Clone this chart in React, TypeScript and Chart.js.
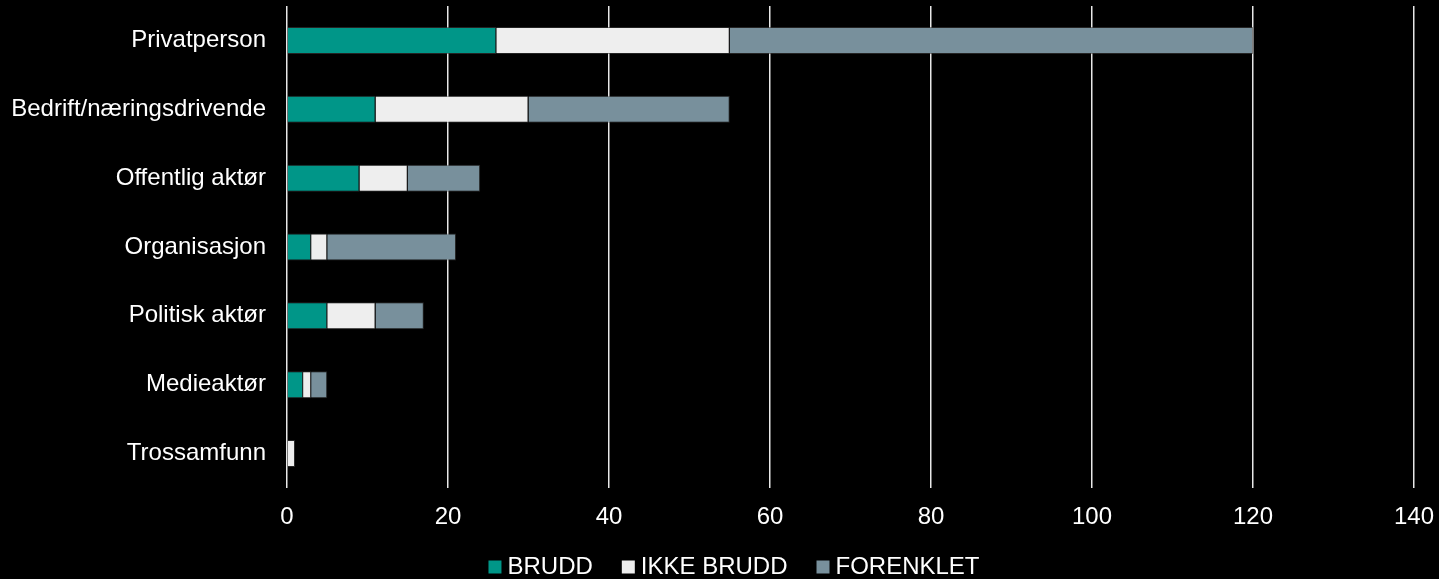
import React, { useEffect, useRef } from "react";
import { Chart, registerables } from "chart.js";

Chart.register(...registerables);

const categories = [
  "Privatperson",
  "Bedrift/næringsdrivende",
  "Offentlig aktør",
  "Organisasjon",
  "Politisk aktør",
  "Medieaktør",
  "Trossamfunn",
];
const brudd = [26, 11, 9, 3, 5, 2, 0];
const ikkeBrudd = [29, 19, 6, 2, 6, 1, 1];
const forenklet = [65, 25, 9, 16, 6, 2, 0];
const seriesNames = ["BRUDD", "IKKE BRUDD", "FORENKLET"];
const xTicks = [0, 20, 40, 60, 80, 100, 120, 140];

const FONT = "'Liberation Sans', Arial, sans-serif";
const CANVAS_H = 589;

export default function App() {
  const ref = useRef<HTMLCanvasElement | null>(null);

  useEffect(() => {
    if (!ref.current) return;
    const chart = new Chart(ref.current, {
      type: "bar",
      data: {
        labels: categories,
        datasets: [
          { label: seriesNames[0], data: brudd, backgroundColor: "#009688", borderColor: "rgba(60,60,60,0.6)", borderWidth: 1 },
          { label: seriesNames[1], data: ikkeBrudd, backgroundColor: "#eeeeee", borderColor: "rgba(60,60,60,0.6)", borderWidth: 1 },
          { label: seriesNames[2], data: forenklet, backgroundColor: "#78909c", borderColor: "rgba(60,60,60,0.6)", borderWidth: 1 },
        ],
      },
      options: {
        indexAxis: "y",
        responsive: false,
        animation: false,
        maintainAspectRatio: false,
        datasets: { bar: { barPercentage: 0.392, categoryPercentage: 1 } },
        layout: { padding: { top: 6, right: 25, left: 60, bottom: 0 } },
        plugins: {
          legend: {
            position: "bottom",
            labels: {
              color: "#ffffff",
              font: { family: FONT, size: 24 },
              usePointStyle: true,
              pointStyle: "rect",
              boxWidth: 1,
              boxHeight: 13,
              padding: 35,
              generateLabels: (c: any) =>
                Chart.defaults.plugins.legend.labels.generateLabels(c).map((l: any) => ({
                  ...l,
                  lineWidth: 0,
                  strokeStyle: "rgba(0,0,0,0)",
                  pointStyle: "rect",
                })),
            },
          },
          tooltip: { enabled: false },
        },
        scales: {
          x: {
            stacked: true,
            min: 0,
            max: 140,
            afterBuildTicks: (s: any) => {
              s.ticks = xTicks.map((v) => ({ value: v }));
            },
            afterFit: (s: any) => {
              s.height = 32;
              s.paddingLeft = 0;
              s.paddingRight = 0;
              s._computeLabelArea = () => undefined;
            },
            grid: { color: "#e8e8e8", lineWidth: 1.5, drawTicks: false },
            border: { display: false },
            ticks: { color: "#ffffff", font: { family: FONT, size: 24 }, padding: 15, maxRotation: 0 },
          },
          y: {
            stacked: true,
            afterFit: (s: any) => {
              s.width = 227;
              s.paddingTop = 0;
              s.paddingBottom = 0;
              s._computeLabelArea = () => undefined;
            },
            grid: { display: false, drawTicks: false },
            border: { display: false },
            ticks: { color: "#ffffff", font: { family: FONT, size: 24 }, padding: 21 },
          },
        },
      },
    });
    return () => chart.destroy();
  }, []);

  return (
    <div style={{ position: "fixed", left: 0, top: 0, width: 1439, height: 579, background: "#000", overflow: "hidden" }}>
      <canvas ref={ref} width={1439} height={CANVAS_H} style={{ display: "block", width: 1439, height: CANVAS_H }} />
    </div>
  );
}
